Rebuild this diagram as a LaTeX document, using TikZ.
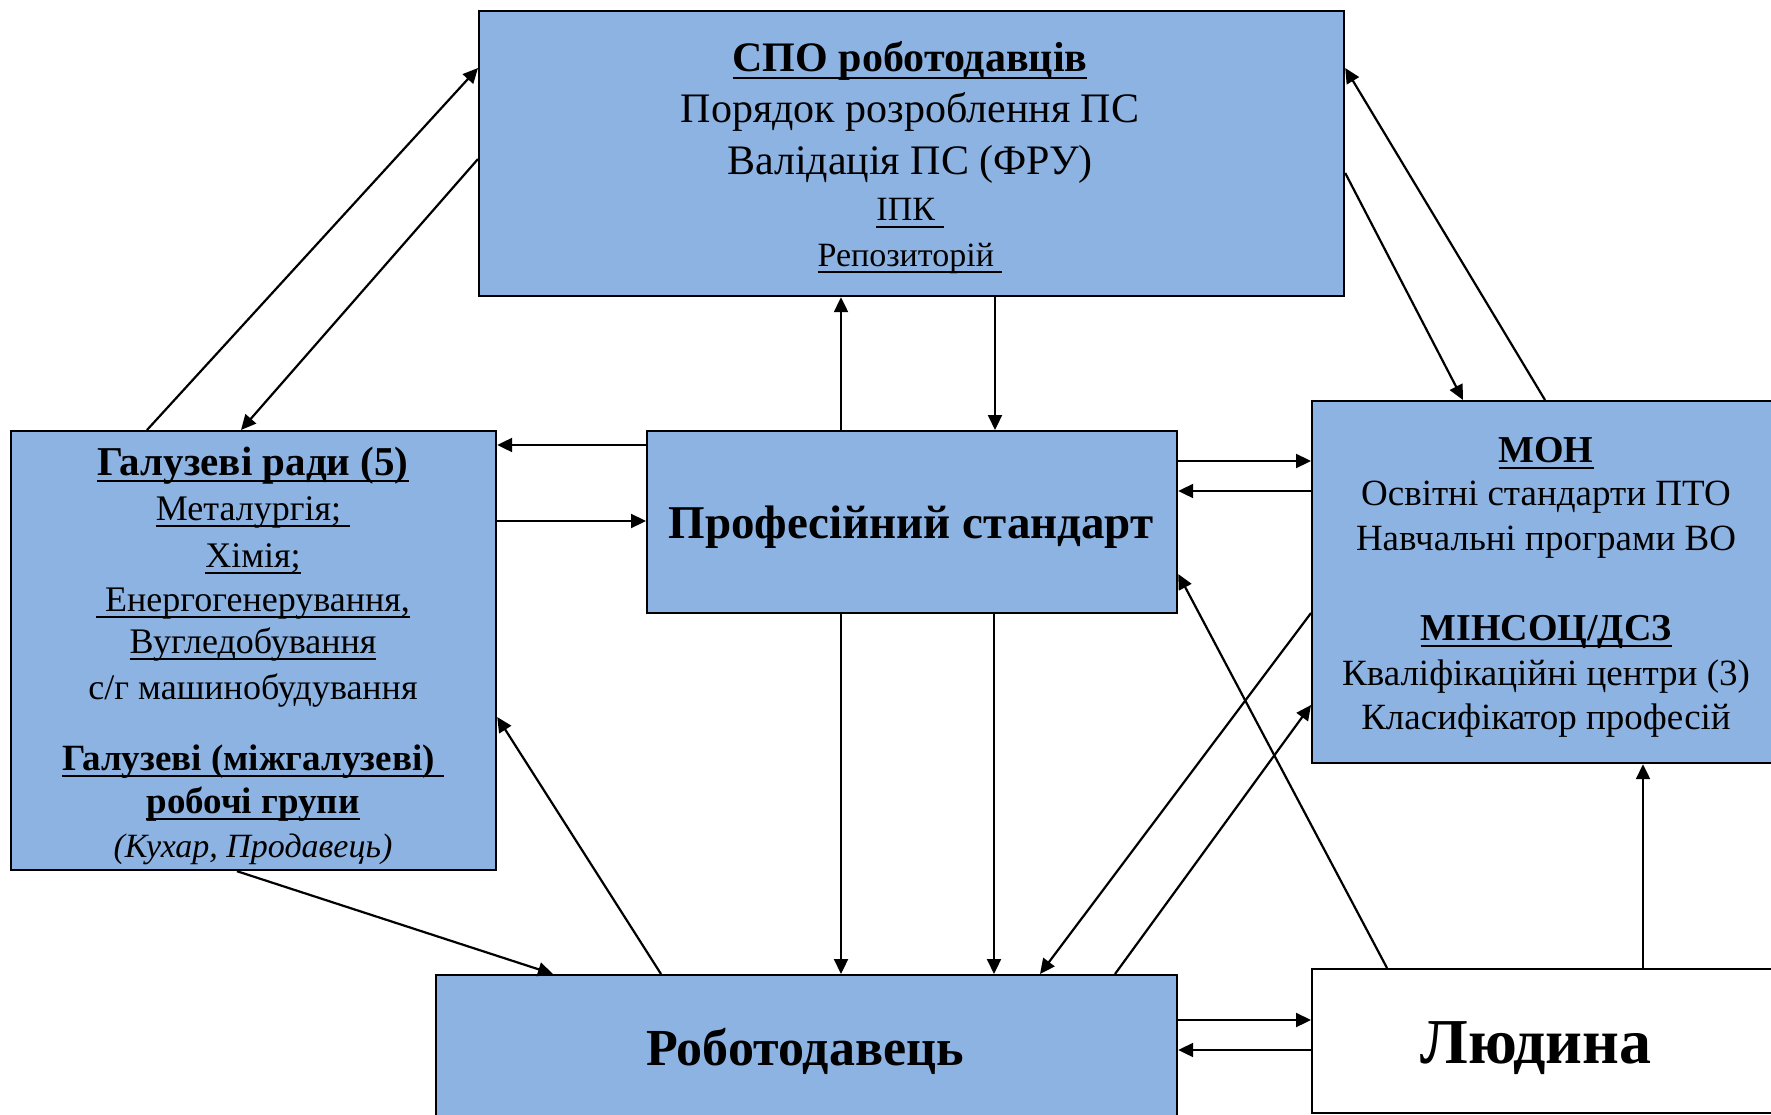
\documentclass[tikz,border=0pt]{standalone}
\usepackage{fontspec}
\setmainfont{Liberation Serif}
\usetikzlibrary{arrows.meta}
\definecolor{boxblue}{HTML}{8DB3E2}
\newsavebox\ulsave
\newcommand\myul[1]{\sbox\ulsave{#1}\rlap{\rule[-7pt]{\wd\ulsave}{2.4pt}}\usebox\ulsave}
\newcommand\setfs[1]{\fontsize{#1}{#1}\selectfont}
\begin{document}
\begin{tikzpicture}[x=1pt,y=-1pt,
  bx/.style={draw=black,line width=2.2pt,fill=boxblue,rectangle,anchor=north west,inner sep=0pt},
  wbx/.style={bx,fill=white},
  txt/.style={anchor=base,inner sep=0pt,text=black},
  arr/.style={line width=2.2pt,-{Triangle[length=15pt,width=14pt]}}]
\useasboundingbox (0,0) rectangle (1771,1115);
\fill[white] (0,0) rectangle (1771,1115);
% boxes
\node[bx,minimum width=865pt,minimum height=285pt] (spo) at (478,10) {};
\node[bx,minimum width=485pt,minimum height=439pt] (gal) at (10,430) {};
\node[bx,minimum width=530pt,minimum height=182pt] (ps) at (646,430) {};
\node[bx,minimum width=468pt,minimum height=362pt] (mon) at (1311,400) {};
\node[bx,minimum width=741pt,minimum height=160pt] (rob) at (435,974) {};
\node[wbx,minimum width=470pt,minimum height=144pt] (lud) at (1311,968) {};
% top box text
\node[txt,font=\setfs{42}\bfseries] (spo1) at (910,72) {\myul{СПО роботодавців}};
\node[txt,font=\setfs{42}] (spo2) at (910,123) {Порядок розроблення ПС};
\node[txt,font=\setfs{42}] (spo3) at (910,175) {Валідація ПС (ФРУ)};
\node[txt,font=\setfs{34}] (spo4) at (910,221) {\myul{ІПК\ }};
\node[txt,font=\setfs{34}] (spo5) at (910,266) {\myul{Репозиторій\ }};
% left box text
\node[txt,font=\setfs{41}\bfseries] (gal1) at (253,475) {\myul{Галузеві ради (5)}};
\node[txt,font=\setfs{36}] (gal2) at (253,520) {\myul{Металургія;\ }};
\node[txt,font=\setfs{36}] (gal3) at (253,567) {\myul{Хімія;}};
\node[txt,font=\setfs{36}] (gal4) at (253,611) {\myul{\ Енергогенерування,}};
\node[txt,font=\setfs{36}] (gal5) at (253,653) {\myul{Вугледобування}};
\node[txt,font=\setfs{36}] (gal6) at (253,699) {с/г машинобудування};
\node[txt,font=\setfs{37}\bfseries] (gal7) at (253,770) {\myul{Галузеві (міжгалузеві)\ }};
\node[txt,font=\setfs{37}\bfseries] (gal8) at (253,813) {\myul{робочі групи}};
\node[txt,font=\setfs{34}\itshape] (gal9) at (253,857) {(Кухар, Продавець)};
% centre
\node[txt,font=\setfs{47}\bfseries] (ps1) at (911,538) {Професійний стандарт};
% MON
\node[txt,font=\setfs{38}\bfseries] (mon1) at (1546,462) {\myul{МОН}};
\node[txt,font=\setfs{37}] (mon2) at (1546,505) {Освітні стандарти ПТО};
\node[txt,font=\setfs{37}] (mon3) at (1546,550) {Навчальні програми ВО};
\node[txt,font=\setfs{38}\bfseries] (mon4) at (1546,640) {\myul{МІНСОЦ/ДСЗ}};
\node[txt,font=\setfs{37}] (mon5) at (1546,685) {Кваліфікаційні центри (3)};
\node[txt,font=\setfs{37}] (mon6) at (1546,729) {Класифікатор професій};
% bottom
\node[txt,font=\setfs{52}\bfseries] (rob1) at (805,1065) {Роботодавець};
\node[txt,font=\setfs{64}\bfseries] (lud1) at (1536,1063) {Людина};
% arrows
\draw[arr] ([xshift=137pt]gal.north west) -- ([yshift=-58pt]spo.north west);
\draw[arr] ([yshift=-149pt]spo.north west) -- ([xshift=231pt]gal.north west);
\draw[arr] ([xshift=195pt]ps.north west) -- ([xshift=363pt]spo.south west);
\draw[arr] ([xshift=517pt]spo.south west) -- ([xshift=349pt]ps.north west);
\draw[arr] ([yshift=-163pt]spo.north east) -- ([xshift=152pt]mon.north west);
\draw[arr] ([xshift=234pt]mon.north west) -- ([yshift=-58pt]spo.north east);
\draw[arr] ([yshift=-15pt]ps.north west) -- ([yshift=-15pt]gal.north east);
\draw[arr] ([yshift=-91pt]gal.north east) -- ([yshift=-91pt]ps.north west);
\draw[arr] ([yshift=-31pt]ps.north east) -- ([yshift=-61pt]mon.north west);
\draw[arr] ([yshift=-91pt]mon.north west) -- ([yshift=-61pt]ps.north east);
\draw[arr] ([xshift=195pt]ps.south west) -- ([xshift=406pt]rob.north west);
\draw[arr] ([xshift=348pt]ps.south west) -- ([xshift=559pt]rob.north west);
\draw[arr] ([xshift=227pt]gal.south west) -- ([xshift=118pt]rob.north west);
\draw[arr] ([xshift=226pt]rob.north west) -- ([yshift=-287pt]gal.north east);
\draw[arr] ([yshift=-213pt]mon.north west) -- ([xshift=605pt]rob.north west);
\draw[arr] ([xshift=680pt]rob.north west) -- ([yshift=-305pt]mon.north west);
\draw[arr] ([xshift=76pt]lud.north west) -- ([yshift=-144pt]ps.north east);
\draw[arr] ([xshift=332pt]lud.north west) -- ([xshift=332pt]mon.south west);
\draw[arr] ([yshift=-46pt]rob.north east) -- ([yshift=-52pt]lud.north west);
\draw[arr] ([yshift=-82pt]lud.north west) -- ([yshift=-76pt]rob.north east);
\end{tikzpicture}
\end{document}
